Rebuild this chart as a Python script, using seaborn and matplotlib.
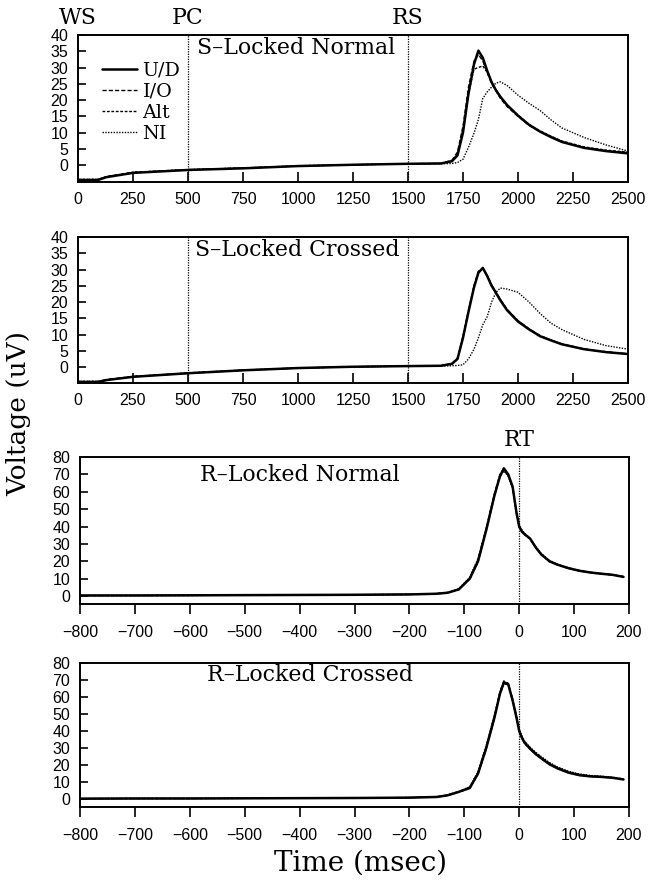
import matplotlib
matplotlib.use("Agg")
import matplotlib.pyplot as plt
import seaborn as sns

# ---------------- data ----------------
series_names = ["U/D", "I/O", "Alt", "NI"]

# Panel 1: S-Locked Normal
t_s = [0, 90, 130, 250, 500, 750, 1000, 1250, 1500, 1650, 1700, 1725, 1750, 1775,
       1800, 1820, 1840, 1860, 1880, 1900, 1920, 1950, 2000, 2050, 2100, 2150,
       2200, 2300, 2400, 2500]
sn_ud = [-4.6, -4.6, -3.7, -2.4, -1.5, -1.0, -0.3, 0.1, 0.4, 0.5, 1.2, 3.0, 10, 22,
         31, 35.2, 33, 29, 25.5, 23, 21, 18.5, 15.2, 12.4, 10.3, 8.6, 7.1, 5.3, 4.3, 3.6]
sn_io = [-4.5, -4.5, -3.5, -2.3, -1.5, -0.9, -0.3, 0.1, 0.4, 0.5, 1.5, 4.0, 12, 24,
         32, 34, 32, 28.5, 25, 22.8, 20.5, 18, 15.0, 12.2, 10.3, 8.7, 7.2, 5.4, 4.4, 3.8]
sn_alt = [-4.4, -4.4, -3.6, -2.2, -1.4, -0.9, -0.2, 0.1, 0.4, 0.5, 1.3, 3.5, 11, 22,
          29.5, 30, 30.5, 28.5, 25.5, 23.2, 21, 18.5, 15.4, 12.5, 10.5, 8.9, 7.4, 5.6, 4.6, 4.0]
sn_ni = [-4.4, -4.4, -3.6, -2.3, -1.4, -0.9, -0.3, 0.1, 0.4, 0.4, 0.5, 0.8, 1.8, 5.5,
         9.8, 14, 20.5, 22.5, 24, 25.2, 25.6, 24.5, 21.5, 19, 16.8, 13.9, 11.4, 8.5, 6.2, 4.3]

# Panel 2: S-Locked Crossed
sc_ud = [-4.6, -4.6, -4.0, -3.0, -1.9, -1.0, -0.3, 0.1, 0.3, 0.4, 1.0, 2.5, 9, 17,
         24.5, 29, 30.5, 28, 25, 22.8, 20.5, 17.5, 14, 11.6, 9.5, 8.2, 7, 5.5, 4.6, 4.0]
sc_io = [-4.5, -4.5, -3.9, -2.9, -1.9, -1.0, -0.3, 0.1, 0.3, 0.4, 1.1, 2.8, 9.5, 17.5,
         25, 29.5, 30.2, 28, 25.2, 23, 20.8, 17.8, 14.3, 11.8, 9.7, 8.3, 7.1, 5.6, 4.7, 4.1]
sc_alt = [-4.4, -4.4, -3.9, -2.9, -1.8, -0.9, -0.3, 0.1, 0.3, 0.4, 1.0, 2.6, 9.2, 17.2,
          24.8, 29.2, 30.3, 28.2, 25.3, 23.1, 20.7, 17.7, 14.2, 11.7, 9.6, 8.3, 7.0, 5.5, 4.6, 4.0]
sc_ni = [-4.4, -4.4, -3.9, -3.0, -1.9, -1.0, -0.3, 0.1, 0.3, 0.3, 0.4, 0.5, 0.7, 2.5,
         5.5, 9, 13, 15.5, 20, 23, 24.3, 24, 23, 20, 16.5, 13.5, 11.5, 8.5, 6.6, 5.5]

# Panels 3/4: response locked
t_r = [-800, -700, -600, -500, -400, -300, -200, -150, -130, -110, -90, -75, -60,
       -45, -35, -28, -20, -12, -5, 0, 5, 10, 20, 30, 40, 55, 70, 90, 110, 130,
       150, 170, 190]
rn_ud = [0.3, 0.3, 0.4, 0.5, 0.6, 0.7, 0.9, 1.3, 1.9, 3.8, 10, 20, 38, 58, 69, 73.5,
         70, 63, 48, 40, 37, 35.5, 33, 28, 24, 20, 18, 16, 14.5, 13.5, 12.8, 12.2, 11]
rn_io = [0.3, 0.3, 0.4, 0.5, 0.6, 0.7, 0.9, 1.4, 2.0, 4.0, 10.5, 21, 39, 59, 70, 73,
         69.5, 62, 47.5, 39.5, 37.5, 35.8, 32.8, 28.2, 24.2, 20.2, 18.1, 16.1, 14.6, 13.6, 12.9, 12.2, 11.1]
rn_alt = [0.2, 0.3, 0.3, 0.5, 0.6, 0.7, 0.9, 1.3, 1.8, 3.7, 9.8, 19.5, 37.5, 57.5, 68.5, 72.5,
          69, 62.5, 48.5, 40.2, 37.2, 35.3, 32.7, 27.8, 23.8, 19.8, 17.8, 15.9, 14.4, 13.4, 12.7, 12.1, 11]
rn_ni = [0.3, 0.4, 0.4, 0.5, 0.6, 0.8, 1.0, 1.4, 2.1, 4.2, 10.8, 21.5, 39, 58.5, 69, 72,
         69, 62, 48, 40.5, 38, 36, 33.2, 28.5, 24.5, 20.5, 18.3, 16.2, 14.7, 13.7, 13, 12.3, 11.2]

rc_ud = [0.2, 0.3, 0.3, 0.4, 0.5, 0.6, 0.8, 1.2, 2.2, 4.2, 6.5, 15, 30, 48, 62, 68.5,
         67.5, 58, 48, 40, 36, 33, 29.5, 26.5, 24, 20.5, 18, 15.5, 14, 13.3, 13, 12.5, 11.5]
rc_io = [0.2, 0.3, 0.3, 0.4, 0.5, 0.6, 0.8, 1.3, 2.3, 4.4, 7.0, 15.8, 31, 49, 63, 69.5,
         68, 58.5, 48.5, 40.5, 36.5, 33.5, 30, 27, 24.5, 21, 18.5, 16, 14.4, 13.6, 13.2, 12.6, 11.6]
rc_alt = [0.2, 0.3, 0.3, 0.4, 0.5, 0.6, 0.8, 1.2, 2.1, 4.0, 6.3, 14.5, 29.5, 47.5, 61.5, 68,
          67, 57.5, 47.5, 39.5, 35.5, 32.8, 29.2, 26.2, 23.8, 20.3, 17.8, 15.4, 13.9, 13.2, 12.9, 12.4, 11.4]
rc_ni = [0.3, 0.3, 0.4, 0.4, 0.5, 0.6, 0.9, 1.3, 2.4, 4.5, 7.2, 16, 31.5, 49.5, 63, 69,
         68, 59, 49, 41, 37, 34, 30.5, 27.5, 25, 21.5, 18.8, 16.3, 14.7, 13.8, 13.4, 12.8, 11.8]

# ---------------- style ----------------
sns.set_style("ticks")
plt.rcParams["font.family"] = ["Liberation Sans", "DejaVu Sans"]
plt.rcParams.update({"text.color": "black", "xtick.color": "black",
                     "ytick.color": "black", "axes.labelcolor": "black",
                     "axes.edgecolor": "black"})
SERIF = ["DejaVu Serif"]

line_styles = {
    "U/D": dict(linestyle="-", lw=1.8),
    "I/O": dict(linestyle=(0, (3.0, 1.5)), lw=1.0),
    "Alt": dict(linestyle=(0, (2.0, 1.2)), lw=1.0),
    "NI": dict(linestyle=(0, (1.0, 1.0)), lw=1.0),
}

fig = plt.figure(figsize=(6.54, 8.81), dpi=100)
H = 881.0
W = 654.0


def make_ax(left, right, top, bottom):
    return fig.add_axes([left / W, (H - bottom) / H, (right - left) / W, (bottom - top) / H])


ax1 = make_ax(78, 628, 35, 182)
ax2 = make_ax(78, 628, 237, 383)
ax3 = make_ax(80, 629, 457, 604)
ax4 = make_ax(80, 629, 663, 807)

panels = [
    (ax1, t_s, [sn_ud, sn_io, sn_alt, sn_ni], "S\u2013Locked Normal", (541, 0.912)),
    (ax2, t_s, [sc_ud, sc_io, sc_alt, sc_ni], "S\u2013Locked Crossed", (532, 0.911)),
    (ax3, t_r, [rn_ud, rn_io, rn_alt, rn_ni], "R\u2013Locked Normal", (-581, 0.878)),
    (ax4, t_r, [rc_ud, rc_io, rc_alt, rc_ni], "R\u2013Locked Crossed", (-569, 0.917)),
]

for i, (ax, t, ys, title, (tx, ty)) in enumerate(panels):
    for name, y in reversed(list(zip(series_names, ys))):
        kw = dict(line_styles[name])
        sns.lineplot(x=t, y=y, ax=ax, color="black", estimator=None,
                     label=name if i == 0 else None, legend=False, **kw)
    for s in ax.spines.values():
        s.set_visible(True)
        s.set_linewidth(1.4)
        s.set_color("black")
    ax.text(tx, ty, title, transform=ax.get_xaxis_transform(), fontsize=15.8,
            family=SERIF, ha="left", va="center", color="black")
    ax.tick_params(axis="y", direction="in", length=6, width=1.2, pad=7,
                   labelsize=11.5, colors="black")
    if i < 2:
        ax.set_xlim(0, 2500)
        ax.set_xticks([0, 250, 500, 750, 1000, 1250, 1500, 1750, 2000, 2250, 2500])
        ax.set_yticks([0, 5, 10, 15, 20, 25, 30, 35, 40])
        ax.tick_params(axis="x", direction="in", length=7, width=1.2, pad=7,
                       labelsize=11.5, colors="black")
        for xv in (500, 1500):
            ax.axvline(xv, color="black", lw=0.9, linestyle=(0, (1, 1)))
    else:
        ax.set_xlim(-800, 200)
        ax.set_xticks([-800, -700, -600, -500, -400, -300, -200, -100, 0, 100, 200])
        ax.set_yticks([0, 10, 20, 30, 40, 50, 60, 70, 80])
        ax.tick_params(axis="x", direction="out", length=7, width=1.2, pad=8,
                       labelsize=11.5, colors="black")
        ax.axvline(0, color="black", lw=0.9, linestyle=(0, (1, 1)))
    ax.set_xlabel("")
    ax.set_ylabel("")

ax1.set_ylim(-5.2, 40)
ax2.set_ylim(-4.9, 40)
ax3.set_ylim(-4.6, 80)
ax4.set_ylim(-4.7, 80)

# event markers
for xv, lab in [(0, "WS"), (500, "PC"), (1500, "RS")]:
    ax1.text(xv, 1.116, lab, transform=ax1.get_xaxis_transform(), fontsize=15.8,
             family=SERIF, ha="center", va="center", clip_on=False, color="black")
ax3.text(0, 1.116, "RT", transform=ax3.get_xaxis_transform(), fontsize=15.8,
         family=SERIF, ha="center", va="center", clip_on=False, color="black")

# legend
handles, labels = ax1.get_legend_handles_labels()
order = [labels.index(n) for n in series_names]
leg = ax1.legend([handles[k] for k in order], [labels[k] for k in order],
                 loc="upper left", bbox_to_anchor=(0.044, 0.82), frameon=False,
                 borderpad=0, borderaxespad=0, handlelength=1.8, handletextpad=0.3,
                 labelspacing=0.16, prop={"family": SERIF, "size": 13.8})
for txt in leg.get_texts():
    txt.set_color("black")

fig.text(19 / W, 1 - 413 / H, "Voltage (uV)", rotation=90, ha="center", va="center",
         fontsize=19, family=SERIF, color="black")
fig.text(361 / W, 1 - 863 / H, "Time (msec)", ha="center", va="center",
         fontsize=20, family=SERIF, color="black")

fig.savefig("out.png", dpi=100)
